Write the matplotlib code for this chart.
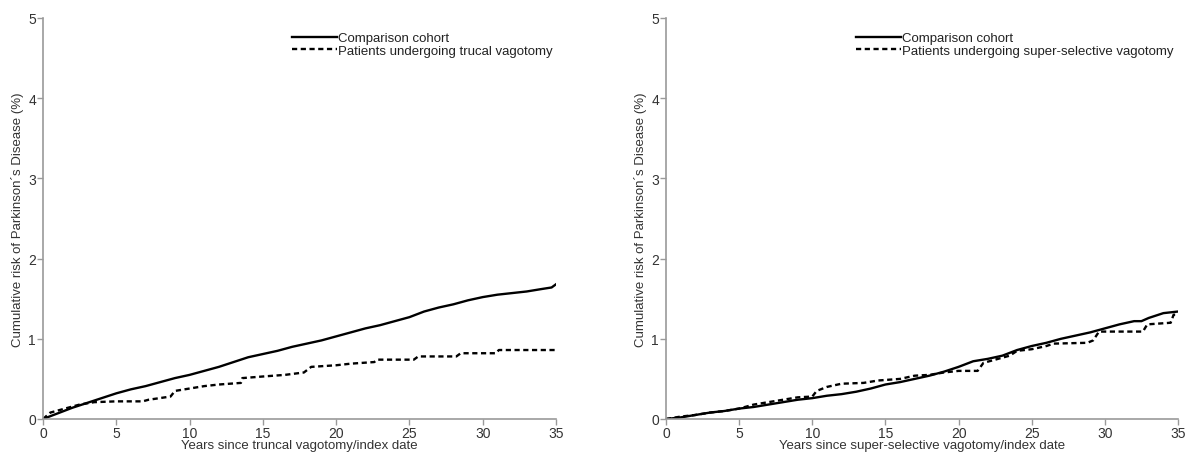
import matplotlib
matplotlib.use("Agg")
from matplotlib import pyplot as plt

plt.rcParams['font.family'] = ['Liberation Sans', 'DejaVu Sans']

# left panel: truncal vagotomy
trunc_comp_x = [0, 1, 2, 3, 4, 5, 6, 7, 8, 9, 10, 11, 12, 13, 13.5, 14, 15, 16, 17, 18,
                19, 20, 21, 22, 23, 24, 25, 26, 27, 28, 29, 30, 31, 32, 33, 34, 34.7, 35]
trunc_comp_y = [0, 0.07, 0.14, 0.2, 0.26, 0.32, 0.37, 0.41, 0.46, 0.51, 0.55, 0.6, 0.65, 0.71,
                0.74, 0.77, 0.81, 0.85, 0.9, 0.94, 0.98, 1.03, 1.08, 1.13, 1.17, 1.22, 1.27,
                1.34, 1.39, 1.43, 1.48, 1.52, 1.55, 1.57, 1.59, 1.62, 1.64, 1.68]
trunc_vag_x = [0, 0.5, 1.5, 2.5, 3.5, 5, 6.8, 7.2, 8.7, 9.0, 10, 11, 12, 13.5, 13.6, 15, 16.5,
               17.8, 18.3, 20, 21, 22.6, 22.8, 25.3, 25.6, 28.2, 28.5, 30.9, 31.1, 35]
trunc_vag_y = [0, 0.08, 0.13, 0.18, 0.21, 0.22, 0.22, 0.24, 0.28, 0.35, 0.38, 0.41, 0.43,
               0.45, 0.51, 0.53, 0.55, 0.58, 0.65, 0.67, 0.69, 0.71, 0.74, 0.74, 0.78, 0.78,
               0.82, 0.82, 0.86, 0.86]

# right panel: super-selective vagotomy
ss_comp_x = [0, 1, 2, 3, 4, 5, 6, 7, 8, 9, 10, 11, 12, 13, 14, 15, 16, 17, 18, 19, 20, 21,
             22, 23, 24, 25, 26, 27, 28, 29, 30, 31, 32, 32.5, 33, 34, 35]
ss_comp_y = [0, 0.02, 0.05, 0.08, 0.1, 0.13, 0.15, 0.18, 0.21, 0.24, 0.26, 0.29, 0.31, 0.34,
             0.38, 0.43, 0.46, 0.5, 0.54, 0.59, 0.65, 0.72, 0.75, 0.79, 0.86, 0.91, 0.95, 1.0,
             1.04, 1.08, 1.13, 1.18, 1.22, 1.22, 1.26, 1.32, 1.34]
ss_vag_x = [0, 1, 2, 3, 4, 5, 6, 7, 8, 9, 10.0, 10.3, 11, 12, 13.5, 14.5, 16, 17, 18, 19, 20,
            21.3, 21.7, 22.5, 23.5, 24, 25, 26, 26.5, 28.8, 29.2, 29.6, 32.6, 32.9, 34.5,
            34.7, 35]
ss_vag_y = [0, 0.03, 0.05, 0.08, 0.1, 0.13, 0.18, 0.21, 0.24, 0.27, 0.28, 0.35, 0.4, 0.44,
            0.45, 0.48, 0.5, 0.54, 0.55, 0.58, 0.6, 0.6, 0.7, 0.74, 0.79, 0.85, 0.87, 0.91,
            0.94, 0.95, 0.98, 1.09, 1.09, 1.18, 1.2, 1.3, 1.3]

xticks = [0, 5, 10, 15, 20, 25, 30, 35]
yticks = [0, 1, 2, 3, 4, 5]
ylabel = 'Cumulative risk of Parkinson\u00b4s Disease (%)'

fig = plt.figure(figsize=(11.91, 4.56), dpi=100)
ax1 = fig.add_axes([43 / 1191, 36 / 456, 513 / 1191, 401 / 456])
ax2 = fig.add_axes([666 / 1191, 36 / 456, 512 / 1191, 401 / 456])

panels = [
    (ax1, trunc_comp_x, trunc_comp_y, trunc_vag_x, trunc_vag_y,
     'Patients undergoing trucal vagotomy',
     'Years since truncal vagotomy/index date', 0.485),
    (ax2, ss_comp_x, ss_comp_y, ss_vag_x, ss_vag_y,
     'Patients undergoing super-selective vagotomy',
     'Years since super-selective vagotomy/index date', 0.371),
]

for ax, cx, cy, vx, vy, vlabel, xlabel, legx in panels:
    ax.plot(cx, cy, color='black', lw=1.7, label='Comparison cohort')
    ax.plot(vx, vy, color='black', lw=1.7, ls=(0, (2.2, 1.5)), label=vlabel)
    ax.set_xlim(0, 35)
    ax.set_ylim(0, 5)
    ax.set_xticks(xticks)
    ax.set_yticks(yticks)
    for side in ['top', 'right']:
        ax.spines[side].set_visible(False)
    for side in ['left', 'bottom']:
        ax.spines[side].set_color('#9a9a9a')
        ax.spines[side].set_linewidth(1.2)
    ax.tick_params(axis='both', direction='out', length=4, width=1, color='#9a9a9a',
                   labelsize=10, labelcolor='#333333', pad=1)
    ax.set_xlabel(xlabel, fontsize=9.5, color='#333333', labelpad=-1)
    ax.set_ylabel(ylabel, fontsize=9.5, color='#333333', labelpad=3)
    ax.legend(loc='upper left', bbox_to_anchor=(legx, 0.965), frameon=False, fontsize=9.5,
              handlelength=3.4, handletextpad=0.1, labelspacing=0.0, borderpad=0,
              borderaxespad=0, labelcolor='#222222')

fig.savefig('out.png', dpi=100)
